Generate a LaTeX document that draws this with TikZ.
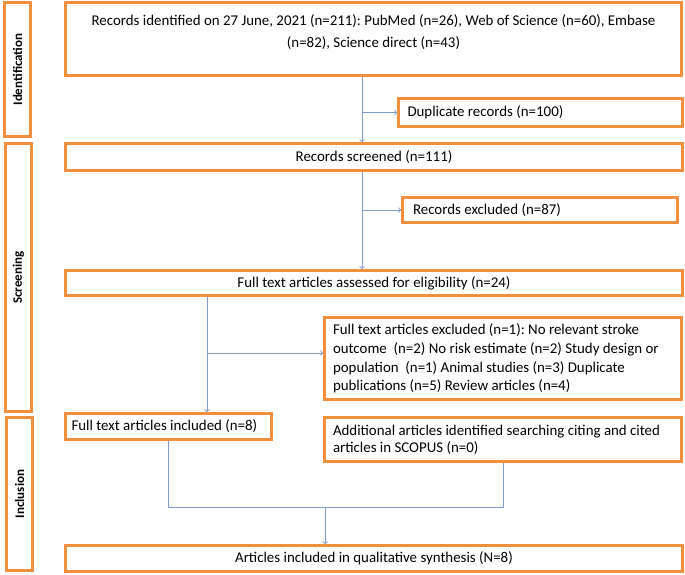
\documentclass[tikz,border=0pt]{standalone}
\usepackage{fontspec}
\setmainfont{Carlito}
\usepackage{tikz}
\frenchspacing

\definecolor{boxorange}{HTML}{F0903E}
\definecolor{flowblue}{HTML}{7F9CCB}

\tikzset{
  box/.style={draw=boxorange, line width=2.6pt, rectangle, inner sep=0pt,
    font=\fontsize{14.9}{21}\selectfont},
  stage/.style={box, rotate=90, font=\fontsize{13}{15}\bfseries\selectfont},
  flow/.style={draw=flowblue, line width=1pt, ->, >=to},
  flowline/.style={draw=flowblue, line width=1pt}
}

\begin{document}
\begin{tikzpicture}[x=1pt, y=-1pt]
      \useasboundingbox (0,0) rectangle (685,574);

      % Stage labels
      \node[stage, minimum width=134, minimum height=26] (sIdent) at (17.5,69.5) {Identification};
      \node[stage, minimum width=268, minimum height=26] (sScreen) at (18.5,277.5) {Screening};
      \node[stage, minimum width=153, minimum height=26] (sIncl) at (19.5,494) {Inclusion};

      % Boxes
      \node[box, minimum width=616, minimum height=73, align=center, text depth=16pt,
        font=\fontsize{14.9}{22}\selectfont] (ident) at (373.5,39)
        {Records identified on 27 June, 2021 (n=211): PubMed (n=26), Web of Science (n=60), Embase\\(n=82), Science direct (n=43)};
      \node[box, minimum width=284, minimum height=28, text width=266, align=flush left] (dup) at (540.5,112.5)
        {Duplicate records (n=100)};
      \node[box, minimum width=617, minimum height=27, align=center] (screened) at (374,157)
        {Records screened (n=111)};
      \node[box, minimum width=275, minimum height=25, text width=254, align=flush left] (excl) at (540,210)
        {Records excluded (n=87)};
      \node[box, minimum width=617, minimum height=25, align=center] (assessed) at (374,283)
        {Full text articles assessed for eligibility (n=24)};
      \node[box, minimum width=357, minimum height=82, text width=340, align=flush left,
        font=\fontsize{14.9}{18.7}\selectfont] (ftexcl) at (503,358.5)
        {Full text articles excluded (n=1): No relevant stroke\\outcome\ \ (n=2) No risk estimate (n=2) Study design or\\population\ \ (n=1) Animal studies (n=3) Duplicate\\publications (n=5) Review articles (n=4)};
      \node[box, minimum width=206, minimum height=26, text width=194, align=flush left] (ftincl) at (168.5,426.5)
        {Full text articles included (n=8)};
      \node[box, minimum width=357, minimum height=44, text width=340, align=flush left,
        font=\fontsize{14.9}{17}\selectfont] (addl) at (503,439.5)
        {Additional articles identified searching citing and cited\\articles in SCOPUS (n=0)};
      \node[box, minimum width=617, minimum height=26, align=center] (synth) at (374,558.5)
        {Articles included in qualitative synthesis (N=8)};

      % Connectors
      \coordinate (c1) at (362,0);
      \coordinate (c2) at (207,353);
      \coordinate (m) at (325,507);
      \draw[flow] (c1 |- ident.south) -- (c1 |- screened.north);
      \draw[flow] (c1 |- dup.west) -- (dup.west);
      \draw[flow] (c1 |- screened.south) -- (c1 |- assessed.north);
      \draw[flow] (c1 |- excl.west) -- (excl.west);
      \draw[flow] (c2 |- assessed.south) -- (c2 |- ftincl.north);
      \draw[flow] (c2) -- (c2 -| ftexcl.west);
      \draw[flowline] (ftincl.south) |- (m) -| (addl.south);
      \draw[flow] (m) -- (m |- synth.north);
  \end{tikzpicture}
\end{document}
